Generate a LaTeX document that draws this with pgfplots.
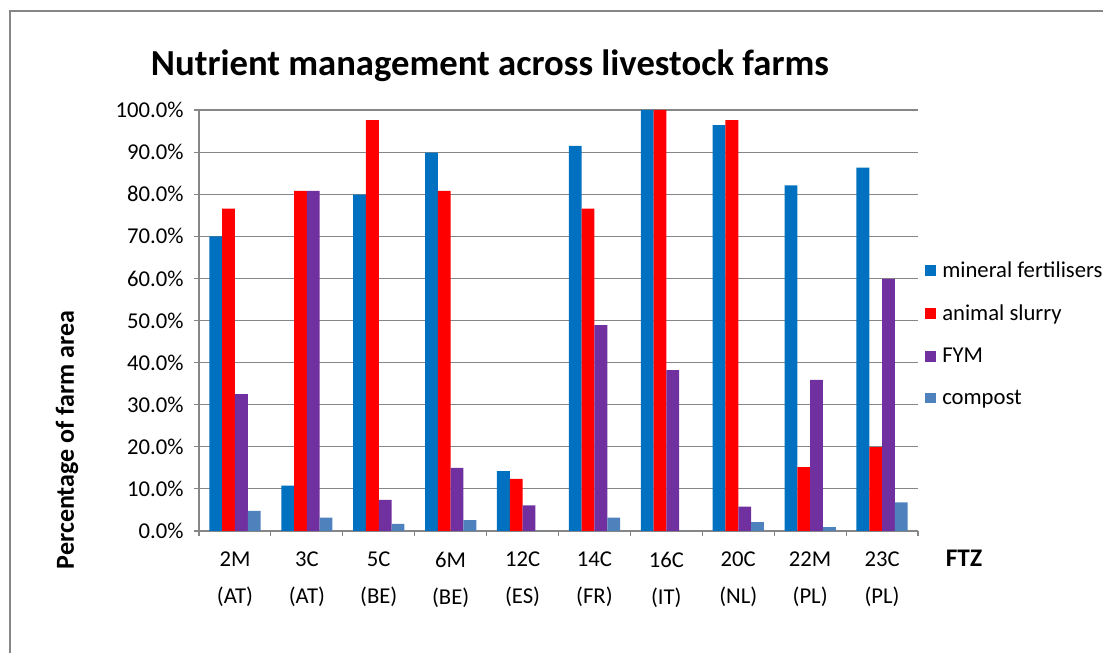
\documentclass[border=0pt]{standalone}
\usepackage{fontspec}
\setmainfont{Carlito}
\usepackage{pgfplots}
\pgfplotsset{compat=1.18}
\usepackage{pgfplotstable}

\definecolor{cMin}{HTML}{0070C0}
\definecolor{cSlurry}{HTML}{FF0000}
\definecolor{cFym}{HTML}{7030A0}
\definecolor{cComp}{HTML}{4F81BD}
\definecolor{gridgray}{HTML}{868686}

% share of farm area (%) per farm
\pgfplotstableread{
x mineral slurry fym compost
0 70.0 76.6 32.5 4.8
1 10.8 80.8 80.8 3.2
2 79.9 97.6 7.4 1.7
3 89.9 80.8 15.0 2.6
4 14.2 12.4 6.1 0.0
5 91.5 76.6 48.9 3.2
6 100.0 100.0 38.2 0.0
7 96.4 97.6 5.8 2.1
8 82.1 15.2 35.9 0.9
9 86.3 19.9 59.9 6.8
}\farms

\begin{document}
\begin{tikzpicture}[x=0.75pt,y=0.75pt]
\useasboundingbox (0,0) rectangle (1103,653);
\draw[gridgray, line width=1pt] (10,-5) -- (10,642) -- (1110,642);
\node[font=\bfseries\fontsize{27.5}{32}\selectfont] at (490,587) {Nutrient management across livestock farms};
\node[rotate=90, font=\bfseries\fontsize{19.5}{23}\selectfont] at (67,213) {Percentage of farm area};
\node[font=\bfseries\fontsize{19}{23}\selectfont] at (964,95) {FTZ};
\coordinate (axo) at (199,122);
\begin{axis}[
  at={(axo)}, anchor=south west,
  scale only axis, width=539.25pt, height=315.75pt,
  ybar=0pt, bar width=9.6pt,
  xmin=-0.5, xmax=9.5, ymin=0, ymax=100,
  xtick={-0.5,0.5,...,9.5},
  x tick label as interval,
  xticklabels={{2M\\[8pt](AT)},{3C\\[8pt](AT)},{5C\\[8pt](BE)},{6M\\[8pt](BE)},{12C\\[8pt](ES)},
               {14C\\[8pt](FR)},{16C\\[8pt](IT)},{20C\\[8pt](NL)},{22M\\[8pt](PL)},{23C\\[8pt](PL)}},
  x tick label style={align=center, font=\fontsize{17}{20}\selectfont, yshift=-8pt},
  ytick={0,10,...,100},
  yticklabel={\pgfmathprintnumber[fixed,fixed zerofill,precision=1,assume math mode=true]{\tick}\%},
  y tick label style={font=\fontsize{17}{20}\selectfont, xshift=-4pt},
  ymajorgrids, grid style={gridgray, line width=0.8pt},
  axis x line*=bottom, axis y line*=left,
  axis line style={gridgray, line width=0.8pt, -},
  tick align=outside, major tick length=4pt,
  tick style={gridgray, line width=0.8pt},
  legend style={draw=none, fill=none, at={(1,0.468)}, anchor=west, xshift=2pt,
                font=\fontsize{17}{20}\selectfont, row sep=15pt,
                /tikz/every odd column/.append style={column sep=3pt}},
  legend cell align=left,
  legend image code/.code={\fill[#1, draw=none] (0pt,-4pt) rectangle (8pt,4pt);},
]
\addplot[fill=cMin, draw=none] table[x=x, y=mineral]{\farms};
\addplot[fill=cSlurry, draw=none] table[x=x, y=slurry]{\farms};
\addplot[fill=cFym, draw=none] table[x=x, y=fym]{\farms};
\addplot[fill=cComp, draw=none] table[x=x, y=compost]{\farms};
\legend{mineral fertilisers, animal slurry, FYM, compost}
\end{axis}
\end{tikzpicture}
\end{document}
